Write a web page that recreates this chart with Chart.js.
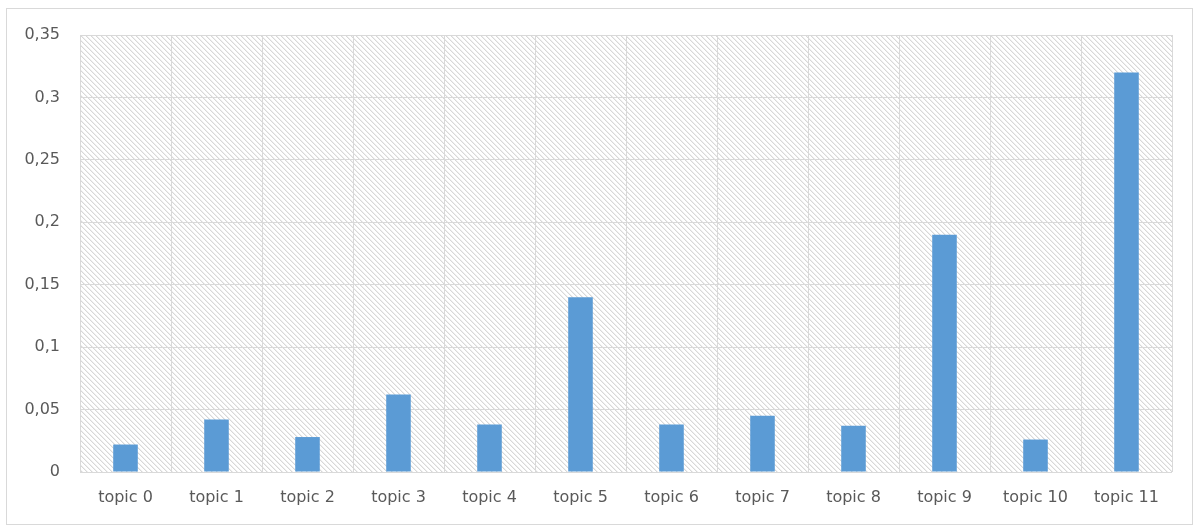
<!DOCTYPE html>
<html>
<head>
<meta charset="utf-8">
<script src="https://cdn.jsdelivr.net/npm/chart.js@4/dist/chart.umd.min.js"></script>
<style>
  html, body { margin: 0; padding: 0; background: #ffffff; }
  #wrap { width: 1194px; height: 528px; position: relative; }
</style>
</head>
<body>
<div id="wrap"><canvas id="chart" width="1194" height="528"></canvas></div>
<script>
// Topic weights
const categories = ['topic 0', 'topic 1', 'topic 2', 'topic 3', 'topic 4', 'topic 5',
                    'topic 6', 'topic 7', 'topic 8', 'topic 9', 'topic 10', 'topic 11'];
const values = [0.022, 0.042, 0.028, 0.062, 0.038, 0.14, 0.038, 0.045, 0.037, 0.19, 0.026, 0.32];
const yMin = 0;
const yMax = 0.35;
const yStep = 0.05;

// Diagonal hatch tile for the plot background
function makeHatch(ctx) {
  const n = 5;
  const tile = document.createElement('canvas');
  tile.width = n; tile.height = n;
  const t = tile.getContext('2d');
  t.fillStyle = '#ffffff';
  t.fillRect(0, 0, n, n);
  for (let i = 0; i < n; i++) {
    t.fillStyle = '#d8d8d8';
    t.fillRect(i, i, 1, 1);
    t.fillStyle = '#efefef';
    t.fillRect((i + 1) % n, i, 1, 1);
  }
  return ctx.createPattern(tile, 'repeat');
}

const backdrop = {
  id: 'backdrop',
  beforeDraw(chart) {
    const { ctx, chartArea: a } = chart;
    ctx.save();
    // outer frame
    ctx.strokeStyle = '#d9d9d9';
    ctx.lineWidth = 1;
    ctx.strokeRect(6.5, 8.5, 1186, 516);
    // hatched plot area
    ctx.fillStyle = makeHatch(ctx);
    ctx.fillRect(a.left, a.top, a.right - a.left, a.bottom - a.top);
    ctx.restore();
  }
};

const tickFont = { family: 'DejaVu Sans', size: 16 };

new Chart(document.getElementById('chart'), {
  type: 'bar',
  data: {
    labels: categories,
    datasets: [{
      data: values,
      backgroundColor: '#5b9bd5',
      borderWidth: 0,
      barPercentage: 1,
      categoryPercentage: 0.27
    }]
  },
  options: {
    responsive: false,
    animation: false,
    events: [],
    layout: { padding: { left: 10, top: 35, right: 22, bottom: 0 } },
    plugins: { legend: { display: false }, tooltip: { enabled: false } },
    scales: {
      x: {
        grid: { color: '#d9d9d9', lineWidth: 1, drawTicks: false, offset: true },
        border: { display: false },
        ticks: { color: '#595959', font: tickFont, padding: 16, maxRotation: 0, autoSkip: false },
        afterFit(scale) { scale.height = 56; }
      },
      y: {
        min: yMin,
        max: yMax,
        grid: { color: '#d9d9d9', lineWidth: 1, drawTicks: false },
        border: { display: false },
        ticks: {
          stepSize: yStep,
          color: '#595959',
          font: tickFont,
          padding: 20,
          callback: v => String(Math.round(v * 100) / 100).replace('.', ',')
        },
        afterFit(scale) { scale.width = 70; }
      }
    }
  },
  plugins: [backdrop]
});
</script>
</body>
</html>
